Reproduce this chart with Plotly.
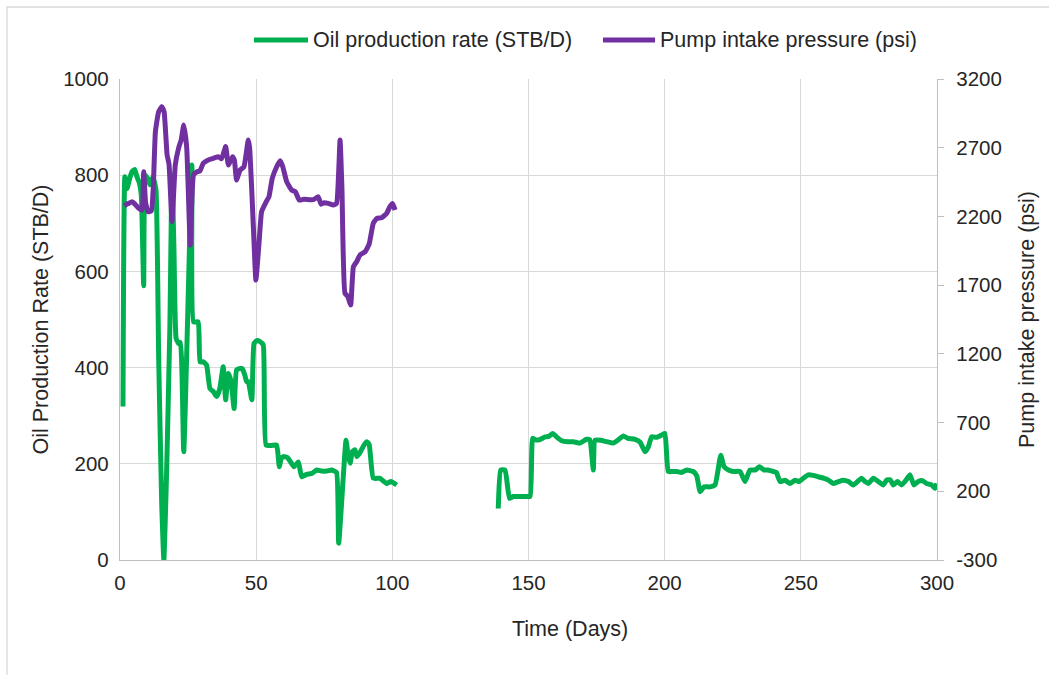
import plotly.graph_objects as go

# ---- data ----
days_oil = [1.1, 1.8, 2.6, 3.4, 4.4, 5.4, 6.2, 7.0, 7.8, 8.7, 9.3, 10.5, 11.0, 12.1, 13.2,
            14.2, 15.3, 16.1, 17.1, 18.3, 19.1, 19.8, 20.6, 21.5, 22.2, 23.4, 26.4, 27.0, 28.7,
            29.4, 30.6, 31.8, 33.0, 34.3, 35.5, 36.6, 37.9, 38.8, 39.8, 40.8, 41.9, 42.8, 44.1,
            44.9, 45.8, 46.5, 47.1, 48.4, 49.2, 50.2, 51.4, 52.6, 53.6, 55.5, 57.5, 58.5, 59.2,
            60.0, 61.5, 62.5, 63.9, 65.5, 66.7, 68.5, 70.5, 72.2, 74.0, 76.0, 77.7, 79.5, 80.3,
            83.0, 83.7, 84.5, 85.3, 86.3, 87.0, 88.0, 89.5, 90.6, 91.5, 93.0, 95.5, 96.5, 97.9,
            99.5, 101.6,
            None,
            138.9, 139.8, 141.4, 143.0, 144.4, 147.0, 149.3, 150.6, 151.5, 152.5, 154.0, 156.1,
            157.5, 158.9, 160.5, 162.2, 164.5, 166.5, 168.9, 171.3, 172.5, 173.8, 174.4, 176.5,
            178.7, 181.1, 183.0, 184.8, 186.5, 189.1, 191.0, 192.8, 194.0, 195.2, 197.0, 198.9,
            200.1, 201.3, 202.8, 204.4, 206.2, 208.1, 210.5, 211.8, 213.0, 214.5, 216.6, 218.5,
            220.6, 221.8, 223.4, 225.2, 227.7, 229.5, 231.3, 233.2, 234.8, 236.5, 238.0, 239.9,
            241.0, 242.4, 244.2, 246.0, 247.9, 249.4, 250.9, 252.8, 254.5, 256.4, 258.3, 260.1,
            261.9, 263.8, 265.6, 267.5, 269.3, 270.8, 272.3, 273.6, 274.8, 276.6, 278.5, 280.3,
            281.5, 282.8, 284.0, 285.5, 287.0, 288.6, 290.1, 291.5, 293.1, 294.7, 296.2, 298.0,
            299.3, 299.9]
oil_rate = [319, 797, 772, 790, 807, 812, 797, 786, 760, 570, 800, 790, 780, 797, 770,
            420, 120, 0, 180, 480, 800, 650, 461, 450, 452, 225, 821, 495, 495,
            412, 412, 405, 357, 350, 340, 355, 402, 333, 388, 370, 315, 395, 398,
            398, 385, 371, 371, 333, 450, 456, 454, 447, 239, 238, 239, 194, 211,
            215, 213, 205, 194, 204, 173, 178, 180, 187, 185, 185, 187, 182, 35,
            249, 220, 201, 225, 229, 215, 222, 238, 246, 240, 170, 170, 165, 159,
            163, 156,
            None,
            107, 187, 187, 128, 132, 132, 132, 132, 253, 250, 250, 256,
            257, 263, 255, 248, 246, 246, 243, 251, 250, 187, 249, 249,
            246, 243, 250, 258, 253, 251, 245, 225, 235, 256, 255, 260,
            263, 184, 184, 184, 182, 187, 184, 175, 142, 152, 152, 156,
            218, 194, 187, 184, 184, 163, 187, 187, 194, 187, 187, 184,
            182, 163, 166, 159, 166, 163, 170, 177, 176, 173, 170, 166,
            159, 163, 166, 163, 156, 163, 170, 163, 159, 170, 163, 156,
            166, 167, 156, 163, 156, 166, 177, 156, 163, 165, 159, 156,
            149, 159]

days_pip = [1.6, 2.5, 3.2, 4.4, 5.5, 6.9, 8.1, 8.7, 9.4, 10.3, 11.5, 12.2, 13.0, 14.2, 15.4,
            16.2, 17.3, 18.0, 19.1, 20.3, 21.5, 22.5, 23.4, 24.5, 25.8, 27.0, 28.3, 29.3, 30.6,
            32.4, 34.3, 36.1, 37.3, 38.8, 39.8, 41.3, 42.0, 42.8, 44.1, 45.5, 47.1, 47.6, 49.0,
            49.9, 51.0, 52.0, 53.5, 54.7, 55.9, 57.5, 58.8, 59.8, 61.2, 63.0, 64.4, 65.8, 67.5,
            69.5, 71.0, 72.8, 73.8, 75.0, 76.5, 78.3, 79.5, 80.8, 81.5, 82.6, 83.6, 84.7, 85.7,
            86.9, 88.1, 90.0, 91.5, 93.0, 94.3, 96.0, 97.9, 99.1, 100.1, 101.0]
pump_pressure = [2276, 2290, 2295, 2307, 2290, 2259, 2247, 2525, 2300, 2235, 2240, 2400, 2817, 2962, 2999,
                 2960, 2647, 2580, 2162, 2574, 2696, 2760, 2865, 2700, 1992, 2501, 2525, 2530, 2587,
                 2611, 2623, 2635, 2620, 2708, 2574, 2635, 2610, 2465, 2538, 2560, 2756, 2700, 2114,
                 1737, 1992, 2235, 2300, 2343, 2477, 2560, 2605, 2560, 2453, 2392, 2380, 2319, 2325,
                 2322, 2322, 2343, 2289, 2300, 2295, 2283, 2295, 2756, 2400, 1641, 1620, 1556, 1834,
                 1871, 1919, 1943, 2000, 2150, 2186, 2190, 2222, 2271, 2295, 2247]

x_ticks = [0, 50, 100, 150, 200, 250, 300]
left_ticks = [0, 200, 400, 600, 800, 1000]
right_ticks = [-300, 200, 700, 1200, 1700, 2200, 2700, 3200]
right_tick_labels = ["-300", "200", "700", "1200", "1700", "2200", "2700", "3200"]
series_names = ["Oil production rate (STB/D)", "Pump intake pressure (psi)"]
x_title = "Time (Days)"

GREEN = "#00B050"
PURPLE = "#7030A0"
FONT = "Liberation Sans, Arial, sans-serif"
TXT = "#262626"
GRID = "#D9D9D9"
AXIS = "#BFBFBF"

# plot-area geometry in pixels (used for paper-coordinate placement of legend/border)
L, R, T, B = 120, 937, 79, 560
W, H = R - L, B - T
def px(x):
    return (x - L) / W
def py(y):
    return (B - y) / H

fig = go.Figure()
fig.add_trace(go.Scatter(x=days_oil, y=oil_rate, mode="lines", name=series_names[0],
                         line=dict(color=GREEN, width=5, shape="spline", smoothing=0.4),
                         connectgaps=False, showlegend=False))
fig.add_trace(go.Scatter(x=days_pip, y=pump_pressure, mode="lines", name=series_names[1],
                         line=dict(color=PURPLE, width=5, shape="spline", smoothing=0.4),
                         yaxis="y2", showlegend=False))

legend_y = 40
shapes = [
    dict(type="rect", xref="paper", yref="paper",
         x0=px(7), x1=px(1060), y0=py(690), y1=py(7),
         line=dict(color="#D9D9D9", width=1.3), fillcolor="rgba(0,0,0,0)", layer="below"),
    dict(type="line", xref="paper", yref="paper", x0=px(254), x1=px(308), y0=py(legend_y), y1=py(legend_y),
         line=dict(color=GREEN, width=5)),
    dict(type="line", xref="paper", yref="paper", x0=px(603), x1=px(655), y0=py(legend_y), y1=py(legend_y),
         line=dict(color=PURPLE, width=5)),
]
annotations = [
    dict(text=series_names[0], xref="paper", yref="paper", x=px(311), y=py(legend_y),
         xanchor="left", yanchor="middle", showarrow=False, font=dict(size=21.5, color=TXT)),
    dict(text=series_names[1], xref="paper", yref="paper", x=px(658), y=py(legend_y),
         xanchor="left", yanchor="middle", showarrow=False, font=dict(size=21.5, color=TXT)),
    dict(text=x_title, xref="paper", yref="paper", x=px(570), y=py(629),
         xanchor="center", yanchor="middle", showarrow=False, font=dict(size=21.5, color=TXT)),
]

fig.update_layout(
    width=1049, height=675,
    margin=dict(l=L, r=1049 - R, t=T, b=675 - B),
    paper_bgcolor="white", plot_bgcolor="white",
    font=dict(family=FONT, size=20, color=TXT),
    showlegend=False,
    xaxis=dict(range=[0, 300], tickvals=x_ticks, showgrid=True, gridcolor=GRID, gridwidth=1.3,
               showline=True, linecolor=AXIS, linewidth=1.3, zeroline=False, ticks="",
               ticklabelstandoff=4, tickfont=dict(size=20.5)),
    yaxis=dict(range=[0, 1000], tickvals=left_ticks, showgrid=True, gridcolor=GRID, gridwidth=1.3,
               showline=True, linecolor=AXIS, linewidth=1.3, zeroline=False, ticks="",
               ticklabelstandoff=6, tickfont=dict(size=20.5),
               title=dict(text="Oil Production Rate (STB/D)", font=dict(size=21.5, color=TXT), standoff=8)),
    yaxis2=dict(range=[-300, 3200], tickvals=right_ticks, ticktext=right_tick_labels,
                overlaying="y", side="right",
                showgrid=False, showline=True, linecolor=AXIS, linewidth=1.3, zeroline=False,
                ticks="outside", ticklen=6, tickcolor=AXIS, tickwidth=1.3, ticklabelstandoff=8,
                tickfont=dict(size=20.5),
                title=dict(text="Pump intake pressure (psi)", font=dict(size=21.5, color=TXT), standoff=18)),
    shapes=shapes,
    annotations=annotations,
)

fig.write_html("out.html")
